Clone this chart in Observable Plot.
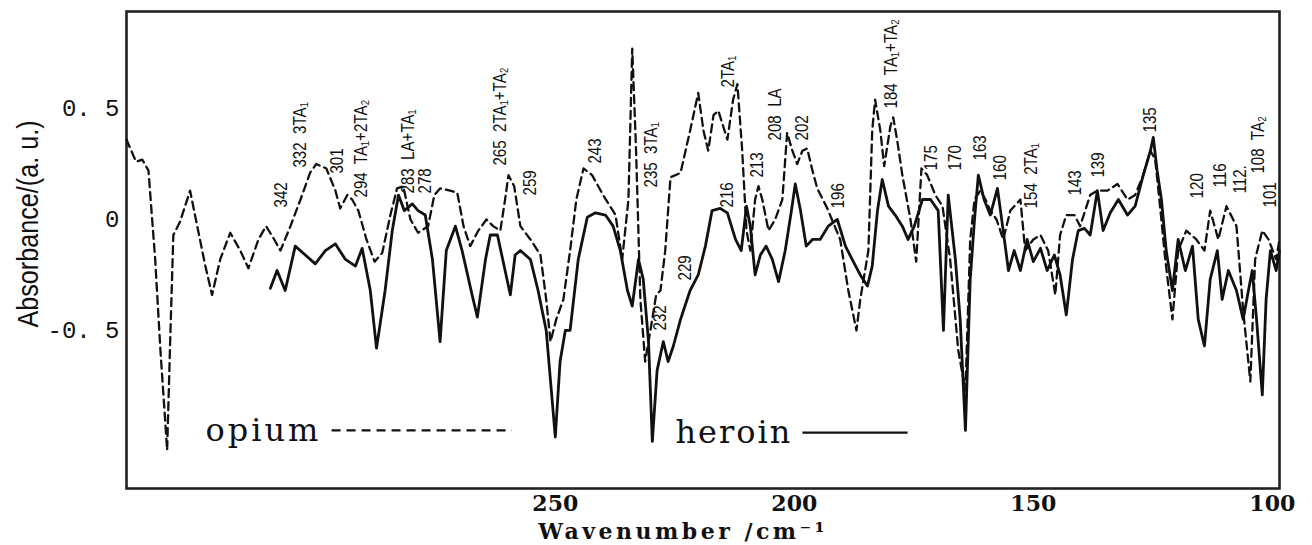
<!DOCTYPE html>
<html><head><meta charset="utf-8">
<script src="https://cdn.jsdelivr.net/npm/d3@7"></script>
<script src="https://cdn.jsdelivr.net/npm/@observablehq/plot@0.6"></script>
<style>body{margin:0;background:#fff} svg{display:block}</style>
</head><body><div id="chart"></div><script>
// ---- data ----
const xTicks = [250, 200, 150, 100];
const yTicks = [-0.5, 0, 0.5];

const opiumWn = [339.7,338.7,337.7,336.4,335.1,333.7,332.6,331.6,331.2,330.5,329.9,328.5,326.4,324.9,323.2,321.8,320.1,318.0,315.9,314.2,312.1,310.5,308.8,307.5,305.4,303.3,301.3,300.0,297.9,296.0,295.0,293.5,292.5,291.2,289.5,287.8,286.2,284.5,283.1,281.8,280.3,278.7,276.6,275.3,274.1,272.0,270.5,269.2,267.8,266.1,264.4,263.0,261.5,260.5,259.8,258.6,257.3,255.2,253.1,251.9,251.0,249.8,248.3,246.9,245.6,244.1,242.3,240.0,237.4,236.0,234.7,233.9,233.1,232.2,231.2,230.1,228.9,228.0,227.0,225.9,223.8,221.8,220.1,219.0,218.0,216.9,215.9,214.0,212.8,211.9,210.9,210.0,209.2,208.2,207.5,206.7,205.4,204.0,202.5,201.5,200.4,199.4,198.3,197.3,196.2,195.2,193.1,190.4,188.7,187.0,186.2,184.5,183.7,183.1,182.0,181.2,179.9,179.3,178.5,177.4,175.7,174.5,173.4,172.2,170.5,169.0,167.4,165.7,164.2,163.2,162.3,161.1,160.0,159.0,157.7,156.3,154.8,152.7,151.7,150.0,148.5,146.9,145.4,144.4,143.1,141.4,140.2,138.1,136.6,134.5,132.4,130.3,128.7,127.0,125.5,124.5,123.4,122.4,120.9,119.7,118.0,115.9,114.2,113.0,111.3,109.6,107.5,106.1,104.6,103.6,102.1,100.8,99.2,98.5];
const opiumAbs = [0.36,0.31,0.26,0.27,0.22,-0.18,-0.59,-0.91,-1.04,-0.50,-0.07,-0.01,0.13,-0.03,-0.21,-0.34,-0.18,-0.06,-0.14,-0.22,-0.09,-0.03,-0.09,-0.14,-0.03,0.09,0.21,0.25,0.23,0.13,0.05,0.11,0.09,0.04,-0.09,-0.19,-0.15,0.02,0.14,0.15,0.00,-0.06,-0.03,0.11,0.14,0.13,0.12,-0.03,-0.12,-0.05,0.00,-0.03,-0.05,0.09,0.20,0.15,-0.03,-0.09,-0.16,-0.36,-0.55,-0.45,-0.36,-0.14,0.09,0.23,0.20,0.11,0.02,-0.18,0.09,0.77,0.31,-0.36,-0.64,-0.50,-0.34,-0.32,-0.14,0.19,0.21,0.40,0.57,0.40,0.31,0.47,0.49,0.36,0.54,0.61,0.31,-0.05,-0.14,0.09,0.15,0.09,-0.05,0.00,0.09,0.39,0.31,0.25,0.31,0.32,0.22,0.14,0.05,-0.09,-0.32,-0.50,-0.36,-0.14,0.40,0.54,0.40,0.24,0.42,0.46,0.36,0.20,0.00,-0.19,0.23,0.20,0.11,0.06,-0.18,-0.59,-0.77,-0.09,0.09,0.13,0.09,0.04,0.00,-0.09,0.04,0.09,-0.14,-0.09,-0.07,-0.14,-0.34,-0.07,0.02,0.02,-0.03,0.11,0.13,0.13,0.16,0.09,0.11,0.20,0.31,0.27,0.04,-0.18,-0.45,-0.14,-0.05,-0.09,-0.14,0.04,-0.09,0.06,-0.03,-0.41,-0.73,-0.18,-0.05,-0.09,-0.18,-0.09];

const heroinWn = [309.6,308.2,306.5,304.4,302.3,300.2,298.1,296.0,293.9,291.8,290.4,288.7,287.4,285.6,284.1,282.8,281.6,279.9,278.7,277.2,275.7,274.1,272.8,270.9,269.5,267.4,266.3,264.6,263.6,262.1,260.5,259.4,258.4,257.3,255.2,253.6,251.9,250.0,249.0,247.9,246.9,245.2,243.3,241.6,239.5,237.9,236.4,234.9,233.9,232.6,231.6,230.5,229.7,228.7,227.4,226.4,225.3,223.8,221.8,220.1,218.6,217.2,215.5,214.0,212.3,211.1,210.0,209.2,208.2,207.1,205.9,204.6,203.3,201.9,200.6,199.8,198.7,197.5,196.2,194.6,192.9,191.0,189.3,187.9,186.2,184.7,183.7,182.6,181.6,180.3,178.9,177.4,176.2,174.9,173.2,171.5,169.9,168.8,167.8,166.3,165.3,164.2,163.2,162.3,161.5,160.3,159.0,157.5,156.3,155.2,154.0,152.7,151.3,150.0,148.5,147.1,145.6,144.4,143.1,141.8,140.6,139.3,138.1,136.6,135.4,133.9,132.2,130.3,128.7,127.0,125.5,124.9,124.1,123.2,122.2,120.9,119.7,118.2,116.7,115.5,114.2,113.0,111.5,110.5,109.2,107.5,106.1,105.0,104.2,103.3,102.1,101.3,100.4,99.2,98.5];
const heroinAbs = [-0.31,-0.23,-0.32,-0.12,-0.16,-0.20,-0.14,-0.11,-0.18,-0.21,-0.13,-0.32,-0.58,-0.32,-0.05,0.11,0.04,0.07,0.04,0.02,-0.18,-0.55,-0.14,-0.03,-0.14,-0.34,-0.44,-0.18,-0.07,-0.07,-0.23,-0.34,-0.16,-0.14,-0.18,-0.32,-0.50,-0.98,-0.64,-0.50,-0.50,-0.18,0.01,0.03,0.02,-0.03,-0.14,-0.32,-0.39,-0.18,-0.27,-0.55,-1.00,-0.68,-0.55,-0.64,-0.57,-0.45,-0.32,-0.25,-0.12,0.04,0.05,0.03,-0.09,-0.14,0.06,-0.03,-0.25,-0.16,-0.12,-0.18,-0.28,-0.14,0.04,0.16,0.04,-0.12,-0.09,-0.09,-0.03,0.00,-0.12,-0.18,-0.25,-0.30,-0.21,0.04,0.18,0.06,0.02,-0.03,-0.09,-0.03,0.09,0.09,0.04,-0.50,0.11,-0.18,-0.45,-0.95,-0.27,0.00,0.20,0.09,0.02,0.14,-0.05,-0.23,-0.14,-0.23,-0.09,-0.19,-0.13,-0.23,-0.16,-0.25,-0.43,-0.18,-0.05,-0.04,-0.07,0.13,-0.05,0.03,0.09,0.02,0.06,0.20,0.31,0.37,0.22,0.09,-0.14,-0.32,-0.09,-0.23,-0.12,-0.45,-0.57,-0.27,-0.14,-0.36,-0.23,-0.32,-0.45,-0.32,-0.23,-0.45,-0.79,-0.36,-0.14,-0.23,-0.14];

// peak annotations (text, wavenumber, absorbance at the foot of the label)
const annText = ["342","332  3TA\u2081","301","294  TA\u2081+2TA\u2082","283  LA+TA\u2081","278","265  2TA\u2081+TA\u2082","259","243","235  3TA\u2081","232","229","2TA\u2081","216","213","208  LA","202","196","184  TA\u2081+TA\u2082","175","170","163","160","154  2TA\u2081","143","139","135","120","116","112.","108  TA\u2082","101"];
const annWn = [307.3,303.3,295.6,290.6,280.8,277.2,261.5,255.2,241.6,229.9,228.0,222.8,213.8,214.0,207.7,204.0,198.3,190.8,179.7,171.3,166.3,161.1,156.9,150.4,141.2,136.4,125.5,115.7,110.9,106.7,102.9,100.4];
const annAbs = [0.054,0.234,0.207,0.099,0.117,0.117,0.243,0.108,0.252,0.144,-0.5,-0.275,0.595,0.054,0.189,0.356,0.356,0.050,0.50,0.221,0.221,0.266,0.176,0.050,0.108,0.189,0.392,0.095,0.144,0.117,0.207,0.054];

const seriesNames = ["opium", "heroin"];
const xTitle = "Wavenumber /cm\u207B\u00B9";
const yTitle = "Absorbance/(a. u.)";

// ---- tables ----
const opium = opiumWn.map((w, i) => ({wn: w, a: opiumAbs[i]}));
const heroin = heroinWn.map((w, i) => ({wn: w, a: heroinAbs[i]}));
const ann = annText.map((t, i) => ({t, wn: annWn[i], a: annAbs[i]}));

const narrow = "'Liberation Sans',Arial,sans-serif";
const serif = "'DejaVu Serif','Liberation Serif',serif";

const chart = Plot.plot({
  width: 1312,
  height: 545,
  marginLeft: 126,
  marginRight: 33,
  marginTop: 11,
  marginBottom: 57,
  style: {background: "#fff", color: "#111"},
  x: {domain: [339.7, 98.5]},
  y: {domain: [-1.212, 0.937]},
  marks: [
    Plot.frame({stroke: "#222", strokeWidth: 2.6}),
    Plot.axisX({ticks: xTicks, tickSize: 0, tickPadding: 7, label: null,
      fontSize: 22, fontWeight: "bold", fontFamily: serif}),
    Plot.axisY({ticks: yTicks, tickSize: 0, tickPadding: 7, label: null,
      tickFormat: d => d === 0 ? "0" : d.toFixed(1).replace(".", ". "),
      fontSize: 24, fontFamily: "'Liberation Mono','DejaVu Sans Mono',monospace"}),
    Plot.line(opium, {x: "wn", y: "a", stroke: "#111", strokeWidth: 2.3,
      strokeDasharray: "8,5"}),
    Plot.line(heroin, {x: "wn", y: "a", stroke: "#111", strokeWidth: 2.8}),
    Plot.text(ann, {x: "wn", y: "a", text: "t", rotate: -90, textAnchor: "start",
      lineAnchor: "middle", fontSize: 18, fontFamily: narrow, fill: "#111"}),
    // in-plot legend
    Plot.text([seriesNames[0]], {frameAnchor: "bottom-left", dx: 79, dy: -58,
      textAnchor: "start", lineAnchor: "middle", fontSize: 32, fontFamily: serif, fill: "#111"}),
    Plot.ruleY([-0.95], {x1: 296.7, x2: 259, stroke: "#111", strokeWidth: 2.3, strokeDasharray: "9,6"}),
    Plot.text([seriesNames[1]], {frameAnchor: "bottom-left", dx: 549, dy: -56,
      textAnchor: "start", lineAnchor: "middle", fontSize: 32, fontFamily: serif, fill: "#111"}),
    Plot.ruleY([-0.96], {x1: 198.2, x2: 176.2, stroke: "#111", strokeWidth: 2.3}),
    // axis titles
    Plot.text([yTitle], {frameAnchor: "left", rotate: -90, dx: -98, dy: -26,
      textAnchor: "middle", lineAnchor: "middle", fontSize: 30, fontFamily: narrow, fill: "#111"}),
    Plot.text([xTitle], {frameAnchor: "bottom", dx: -20, dy: 43,
      textAnchor: "middle", lineAnchor: "middle", fontSize: 22, fontWeight: "bold",
      fontFamily: serif, fill: "#111"})
  ]
});
// condense the sans labels along their reading direction, as in the reference
chart.querySelectorAll('g[font-family*="Liberation Sans"] text').forEach(t => {
  const tr = t.getAttribute("transform");
  if (tr) t.setAttribute("transform", tr + " scale(0.84,1)");
});
// letter spacing of the serif captions
const spacing = {[seriesNames[0]]: "3px", [seriesNames[1]]: "2px", [xTitle]: "3.5px"};
chart.querySelectorAll("text").forEach(t => {
  if (spacing[t.textContent] !== undefined) t.style.letterSpacing = spacing[t.textContent];
});
document.getElementById("chart").appendChild(chart);
</script></body></html>
